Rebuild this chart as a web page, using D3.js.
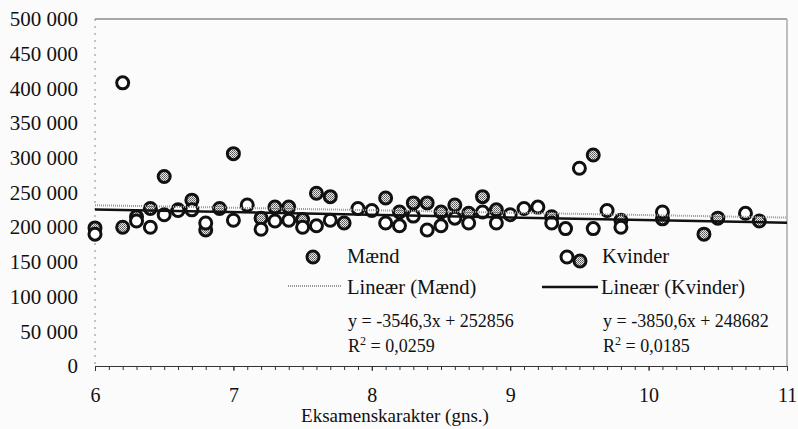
<!DOCTYPE html>
<head>
	<script src="https://d3js.org/d3.v7.min.js"></script>
	<style>
		body {
			margin: 0;
			background: #fbfbfb;
		}
	</style>
</head>
<body>
	<script>
		// data
		var menGrade = [6.0, 6.2, 6.3, 6.4, 6.5, 6.6, 6.7, 6.8, 6.9, 7.0, 7.2, 7.3, 7.4, 7.5, 7.6, 7.7, 7.8,
			8.1, 8.2, 8.3, 8.4, 8.5, 8.6, 8.7, 8.8, 8.9, 9.3, 9.6, 9.8, 10.1, 10.4, 10.5, 10.8];
		var menSalary = [199000, 200000, 215000, 227000, 273000, 225000, 239000, 196000, 227000, 306000, 213000, 229000, 229000, 211000, 249000, 244000, 206000,
			242000, 222000, 235000, 235000, 222000, 232000, 220000, 244000, 225000, 215000, 304000, 210000, 212000, 190000, 213000, 209000];

		var womenGrade = [6.0, 6.2, 6.3, 6.4, 6.5, 6.6, 6.7, 6.8, 7.0, 7.1, 7.2, 7.3, 7.4, 7.5, 7.6, 7.7, 7.9, 8.0,
			8.1, 8.2, 8.3, 8.4, 8.5, 8.6, 8.7, 8.8, 8.9, 9.0, 9.1, 9.2, 9.3, 9.4, 9.5, 9.6, 9.7, 9.8, 10.1, 10.7];
		var womenSalary = [190000, 408000, 209000, 200000, 218000, 224000, 225000, 206000, 210000, 232000, 197000, 209000, 210000, 200000, 202000, 210000, 227000, 224000,
			206000, 202000, 216000, 196000, 202000, 213000, 206000, 222000, 206000, 218000, 227000, 229000, 206000, 198000, 285000, 198000, 224000, 200000, 222000, 220000];

		// trend lines as printed
		var menTrend = { slope: -3546.3, intercept: 252856, label: "y = -3546,3x + 252856", r2: "0,0259" };
		var womenTrend = { slope: -3850.6, intercept: 248682, label: "y = -3850,6x + 248682", r2: "0,0185" };

		var yTicks = [0, 50000, 100000, 150000, 200000, 250000, 300000, 350000, 400000, 450000, 500000];
		var xTicks = [6, 7, 8, 9, 10, 11];

		var width = 798;
		var height = 429;
		var margin = { top: 19, right: 11, bottom: 63, left: 95 };
		var serif = "'Liberation Serif', 'DejaVu Serif', serif";

		var locale = d3.formatLocale({ decimal: ",", thousands: " ", grouping: [3], currency: ["", ""] });
		var fmt = locale.format(",");

		// scales
		var xScale = d3.scaleLinear()
			.domain([6, 11])
			.range([margin.left, width - margin.right]);
		var yScale = d3.scaleLinear()
			.domain([0, 500000])
			.range([height - margin.bottom, margin.top]);

		var svg = d3.select("body")
			.append("svg")
			.attr("width", width)
			.attr("height", height);

		// dotted fill for the men markers
		var pat = svg.append("defs").append("pattern")
			.attr("id", "dots")
			.attr("width", 2)
			.attr("height", 2)
			.attr("patternUnits", "userSpaceOnUse");
		pat.append("rect").attr("width", 2).attr("height", 2).attr("fill", "#e8e8e8");
		pat.append("rect").attr("width", 1).attr("height", 1).attr("fill", "#555");
		pat.append("rect").attr("x", 1).attr("y", 1).attr("width", 1).attr("height", 1).attr("fill", "#777");

		// frame
		svg.append("line")
			.attr("x1", margin.left).attr("x2", width - margin.right)
			.attr("y1", margin.top).attr("y2", margin.top)
			.attr("stroke", "#555").attr("stroke-width", 1);
		svg.append("line")
			.attr("x1", width - margin.right).attr("x2", width - margin.right)
			.attr("y1", margin.top).attr("y2", height - margin.bottom)
			.attr("stroke", "#aaa").attr("stroke-width", 1.5);
		svg.append("line")
			.attr("x1", margin.left).attr("x2", margin.left)
			.attr("y1", margin.top).attr("y2", height - margin.bottom)
			.attr("stroke", "#888").attr("stroke-width", 1)
			.attr("stroke-dasharray", "2,5");

		// axes
		var minor = d3.range(60, 111).map(function(d) { return d / 10; });
		var axisMinor = svg.append("g")
			.attr("transform", "translate(0," + (height - margin.bottom) + ")")
			.call(d3.axisBottom(xScale).tickValues(minor).tickSize(4).tickFormat(""));
		axisMinor.selectAll("line, path").attr("stroke", "#333");

		var axisX = svg.append("g")
			.attr("transform", "translate(0," + (height - margin.bottom) + ")")
			.call(d3.axisBottom(xScale).tickValues(xTicks).tickSize(5).tickPadding(17).tickFormat(d3.format("d")));
		axisX.select(".domain").remove();
		axisX.selectAll("line").attr("stroke", "#333");
		axisX.selectAll(".tick text").attr("font-size", 20);

		var axisY = svg.append("g")
			.attr("transform", "translate(" + margin.left + ",0)")
			.call(d3.axisLeft(yScale).tickValues(yTicks).tickSize(0).tickPadding(17).tickFormat(fmt));
		axisY.select(".domain").remove();
		axisY.selectAll(".tick text").attr("font-size", 21);

		// axis title
		svg.append("text")
			.text("Eksamenskarakter (gns.)")
			.attr("x", 395)
			.attr("y", 422)
			.attr("text-anchor", "middle")
			.attr("font-size", 19);

		// points: men first, women on top
		var r = 6;
		svg.append("g").selectAll("circle")
			.data(d3.zip(menGrade, menSalary))
			.enter()
			.append("circle")
			.attr("cx", function(d) { return xScale(d[0]); })
			.attr("cy", function(d) { return yScale(d[1]); })
			.attr("r", r)
			.attr("fill", "url(#dots)")
			.attr("stroke", "#111")
			.attr("stroke-width", 3);

		svg.append("g").selectAll("circle")
			.data(d3.zip(womenGrade, womenSalary))
			.enter()
			.append("circle")
			.attr("cx", function(d) { return xScale(d[0]); })
			.attr("cy", function(d) { return yScale(d[1]); })
			.attr("r", r)
			.attr("fill", "#fff")
			.attr("stroke", "#111")
			.attr("stroke-width", 3);

		// trend lines
		function trend(t) {
			return [6, 11].map(function(x) { return [xScale(x), yScale(t.slope * x + t.intercept)]; });
		}
		var line = d3.line();
		svg.append("path")
			.attr("d", line(trend(womenTrend)))
			.attr("stroke", "#111")
			.attr("stroke-width", 2.5)
			.attr("fill", "none");
		svg.append("path")
			.attr("d", line(trend(menTrend)))
			.attr("stroke", "#999")
			.attr("stroke-width", 2)
			.attr("stroke-dasharray", "1,1")
			.attr("fill", "none");

		// legend
		var lg = svg.append("g");
		lg.append("circle")
			.attr("cx", 313).attr("cy", 257).attr("r", r)
			.attr("fill", "url(#dots)").attr("stroke", "#111").attr("stroke-width", 3);
		lg.append("text").attr("font-size", 20.5).attr("x", 347).attr("y", 263).text("Mænd");
		lg.append("line")
			.attr("x1", 288).attr("x2", 342).attr("y1", 286).attr("y2", 286)
			.attr("stroke", "#999").attr("stroke-width", 2).attr("stroke-dasharray", "1,1");
		lg.append("text").attr("font-size", 20.5).attr("x", 347).attr("y", 294).text("Lineær (Mænd)");

		lg.append("circle")
			.attr("cx", 567).attr("cy", 257).attr("r", r)
			.attr("fill", "#fff").attr("stroke", "#111").attr("stroke-width", 3);
		lg.append("circle")
			.attr("cx", 580).attr("cy", 261).attr("r", r)
			.attr("fill", "url(#dots)").attr("stroke", "#111").attr("stroke-width", 3);
		lg.append("text").attr("font-size", 20.5).attr("x", 602).attr("y", 263).text("Kvinder");
		lg.append("line")
			.attr("x1", 542).attr("x2", 598).attr("y1", 287).attr("y2", 287)
			.attr("stroke", "#111").attr("stroke-width", 2.5);
		lg.append("text").attr("font-size", 20.5).attr("x", 601).attr("y", 294).text("Lineær (Kvinder)");

		// equations
		[[menTrend, 348], [womenTrend, 603]].forEach(function(p) {
			svg.append("text").attr("font-size", 18).attr("x", p[1]).attr("y", 327).text(p[0].label);
			var t = svg.append("text").attr("font-size", 18).attr("x", p[1]).attr("y", 352);
			t.append("tspan").text("R");
			t.append("tspan").attr("dy", -7).attr("font-size", 12).text("2");
			t.append("tspan").attr("dy", 7).text(" = " + p[0].r2);
		});

		// serif everywhere, like the scanned original
		svg.selectAll("text")
			.style("font-family", serif)
			.attr("fill", "#111");
	</script>
</body>
</html>
